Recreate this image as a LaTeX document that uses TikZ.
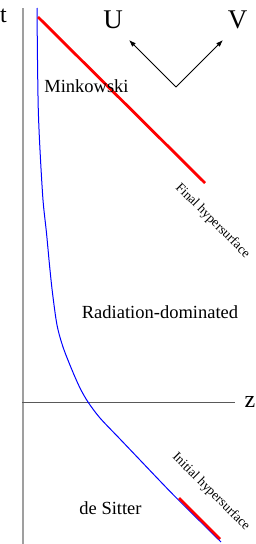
\documentclass[tikz,border=0pt]{standalone}
\usepackage{fontspec}
\setmainfont{Liberation Serif}
\usetikzlibrary{arrows.meta}
\begin{document}
\begin{tikzpicture}[x=1pt,y=-1pt,font=\fontsize{18.5}{20}\selectfont,
  axislab/.style={font=\fontsize{24}{26}\selectfont,inner sep=0pt},
  lightlab/.style={font=\fontsize{27}{29}\selectfont,inner sep=0pt},
  surflab/.style={font=\fontsize{13.3}{15}\selectfont,rotate=-45,inner sep=0pt},
  hyper/.style={red,line width=2.8pt}]
\useasboundingbox (0,0) rectangle (256,544);
\coordinate (ttop) at (23,8);
\coordinate (tbot) at (23,544);
\coordinate (zleft) at (22,402);
\coordinate (zright) at (235,402);
\draw[gray!75,line width=1.6pt] (tbot)--(ttop);
\draw[black!65,line width=0.9pt] (zleft)--(zright);
\node[axislab] (tlab) at (3.5,15.5) {t};
\node[axislab] (zlab) at (250,401.5) {z};
\draw[blue,line width=1pt] plot[smooth] coordinates {(37,8) (37.5,60) (38.3,110) (40,150) (43,200) (46.5,233) (49.5,265) (52.5,293) (57,325) (63,347) (72,370) (80,388) (88,402) (100,418) (120,439) (140,460) (160,481) (178,499.5) (221,542)};
\draw[hyper] (38,17)--(205,183);
\draw[hyper] (179,498)--(220,539);
\coordinate (orig) at (176,87);
\coordinate (utip) at (129,40);
\coordinate (vtip) at (223,40);
\draw[-{Latex[length=7pt,width=5pt]},line width=0.8pt] (orig)--(utip);
\draw[-{Latex[length=7pt,width=5pt]},line width=0.8pt] (orig)--(vtip);
\node[lightlab] (ulab) at (113,20) {U};
\node[lightlab] (vlab) at (237.5,19.5) {V};
\node (mink) at (86.5,86.5) {Minkowski};
\node (rad) at (160,312) {Radiation-dominated};
\node (desit) at (110.5,508) {de Sitter};
\node[surflab] (final) at (212.5,221) {Final hypersurface};
\node[surflab] (initial) at (211,492) {Initial hypersurface};
\end{tikzpicture}
\end{document}
